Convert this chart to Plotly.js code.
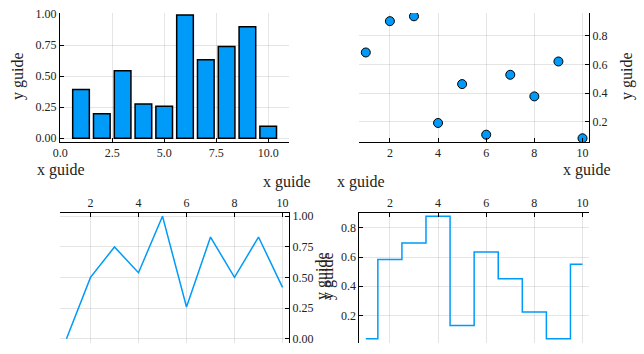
<!DOCTYPE html>
<html>
<head>
<meta charset="utf-8">
<script src="https://cdn.plot.ly/plotly-3.0.1.min.js"></script>
<style>html,body{margin:0;padding:0;background:#fff;}#chart{width:644px;height:354px;}</style>
</head>
<body>
<div id="chart"></div>
<script>
// Data
const xs = [1, 2, 3, 4, 5, 6, 7, 8, 9, 10];
const barValues = [0.392, 0.197, 0.543, 0.276, 0.257, 0.992, 0.632, 0.738, 0.897, 0.097];
const scatterValues = [0.684, 0.903, 0.937, 0.191, 0.463, 0.109, 0.528, 0.377, 0.621, 0.084];
const lineValues = [0.0, 0.501, 0.749, 0.539, 1.0, 0.259, 0.830, 0.501, 0.830, 0.420];
const stepValues = [0.040, 0.584, 0.697, 0.880, 0.131, 0.634, 0.451, 0.223, 0.040, 0.551];

const barXTicks = [0, 2.5, 5, 7.5, 10];
const barXTickText = ["0.0", "2.5", "5.0", "7.5", "10.0"];
const unitYTicks = [0, 0.25, 0.5, 0.75, 1.0];
const unitYTickText = ["0.00", "0.25", "0.50", "0.75", "1.00"];
const intXTicks = [2, 4, 6, 8, 10];
const intXTickText = ["2", "4", "6", "8", "10"];
const smallYTicks = [0.2, 0.4, 0.6, 0.8];
const smallYTickText = ["0.2", "0.4", "0.6", "0.8"];

const xGuide = "x guide";
const yGuide = "y guide";

const blue = "#009AF9";
const W = 644, H = 354;
const FONT = "'Liberation Serif', 'Times New Roman', serif";

function px(x) { return x / W; }
function py(y) { return 1 - y / H; }

function axisBase(extra) {
  return Object.assign({
    showline: true, linecolor: "#000", linewidth: 1, mirror: false,
    zeroline: false, showgrid: true, gridcolor: "rgba(0,0,0,0.1)", gridwidth: 1,
    ticks: "inside", ticklen: 4, tickcolor: "#000", tickwidth: 1,
    tickmode: "array", tickfont: {family: FONT, size: 12, color: "#222"},
    fixedrange: true
  }, extra);
}

const traces = [
  {type: "bar", x: xs, y: barValues, width: 0.8, xaxis: "x", yaxis: "y",
   marker: {color: blue, line: {color: "#000", width: 1.5}}, showlegend: false},
  {type: "scatter", mode: "markers", x: xs, y: scatterValues, xaxis: "x2", yaxis: "y2",
   marker: {color: blue, size: 9, line: {color: "#000", width: 1}}, showlegend: false},
  {type: "scatter", mode: "lines", x: xs, y: lineValues, xaxis: "x3", yaxis: "y3",
   line: {color: blue, width: 1.5}, showlegend: false},
  {type: "scatter", mode: "lines", x: xs, y: stepValues, xaxis: "x4", yaxis: "y4",
   line: {color: blue, width: 1.5, shape: "hvh"}, showlegend: false}
];

const leftDom = [px(60), px(289)];
const rightDom = [px(359.3), px(589)];
const topDom = [py(142), py(13)];
const botDom = [py(342.5), py(212.5)];

const layout = {
  width: W, height: H,
  margin: {l: 0, r: 0, t: 0, b: 0},
  paper_bgcolor: "#fff", plot_bgcolor: "#fff",
  showlegend: false,
  xaxis: axisBase({domain: leftDom, anchor: "y", side: "bottom", range: [-0.01, 11.0],
    tickvals: barXTicks, ticktext: barXTickText}),
  yaxis: axisBase({domain: topDom, anchor: "x", side: "left", range: [-0.03, 1.008],
    tickvals: unitYTicks, ticktext: unitYTickText}),
  xaxis2: axisBase({domain: rightDom, anchor: "y2", side: "bottom", range: [0.73, 10.27],
    tickvals: intXTicks, ticktext: intXTickText}),
  yaxis2: axisBase({domain: topDom, anchor: "x2", side: "right", range: [0.058, 0.96],
    tickvals: smallYTicks, ticktext: smallYTickText}),
  xaxis3: axisBase({domain: leftDom, anchor: "y3", side: "top", range: [0.73, 10.27],
    tickvals: intXTicks, ticktext: intXTickText}),
  yaxis3: axisBase({domain: botDom, anchor: "x3", side: "right", range: [-0.03, 1.03],
    tickvals: unitYTicks, ticktext: unitYTickText}),
  xaxis4: axisBase({domain: rightDom, anchor: "y4", side: "top", range: [0.73, 10.27],
    tickvals: intXTicks, ticktext: intXTickText}),
  yaxis4: axisBase({domain: botDom, anchor: "x4", side: "left", range: [0.015, 0.905],
    tickvals: smallYTicks, ticktext: smallYTickText}),
  annotations: []
};

function guide(text, x, y, xanchor, angle) {
  layout.annotations.push({
    text: text, xref: "paper", yref: "paper", x: px(x), y: py(y),
    xanchor: xanchor, yanchor: "middle", showarrow: false, textangle: angle || 0,
    font: {family: FONT, size: 16, color: "#222"}
  });
}
// x guides
guide(xGuide, 35, 170, "left");
guide(xGuide, 313, 182, "right");
guide(xGuide, 335, 182, "left");
guide(xGuide, 613, 170, "right");
// y guides
guide(yGuide, 18, 76, "center", -90);
guide(yGuide, 627, 76, "center", -90);
guide(yGuide, 322, 276, "center", -90);
guide(yGuide, 328, 276, "center", -90);

Plotly.newPlot("chart", traces, layout, {staticPlot: true, displayModeBar: false});
</script>
</body>
</html>
